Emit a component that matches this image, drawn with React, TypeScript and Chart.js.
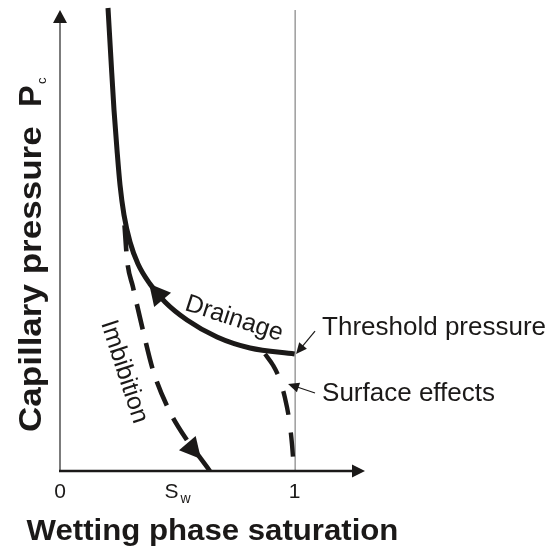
import React, { useEffect, useRef } from 'react';
import { Chart, registerables } from 'chart.js';

Chart.register(...registerables);

const FONT = '"Liberation Sans", Arial, Helvetica, sans-serif';
const INK = '#1b1918';

// Drainage curve (solid)
const drainageX = [0.2046, 0.2174, 0.2302, 0.243, 0.2558, 0.2728, 0.2984, 0.3325, 0.3836, 0.4476, 0.5413, 0.6692, 0.8099, 1.0];
const drainageY = [9.893, 8.782, 7.714, 6.859, 6.111, 5.47, 4.893, 4.423, 3.996, 3.611, 3.226, 2.863, 2.628, 2.5];

// Imbibition curve (dashed)
const imbibitionX = [0.275, 0.286, 0.311, 0.35, 0.396, 0.46, 0.541, 0.601, 0.639];
const imbibitionY = [5.25, 4.51, 3.93, 3.08, 2.16, 1.35, 0.66, 0.26, 0.0];

// Surface effects branch (dashed)
const surfaceX = [0.874, 0.908, 0.934, 0.959, 0.977, 0.989, 0.997];
const surfaceY = [2.5, 2.26, 1.99, 1.56, 1.09, 0.56, 0.02];

// Axis ticks
const xTickValues = [0, 0.475, 1];
const xTickLabels = ['0', 'S', '1'];
const xTickSubs = ['', 'w', ''];

const xMin = 0;
const xMax = 1.3;
const yMin = 0;
const yMax = 10;
const axisTopY = 9.85;
const satLineX = 1;

// arrows: [tail, tip] in data units
const drainageArrow = [[0.435, 3.67], [0.38, 4.0]];
const imbibitionArrow = [[0.546, 0.577], [0.601, 0.256]];
const thresholdLeader = [[1.087, 2.99], [1.006, 2.5]];
const surfaceLeader = [[1.087, 1.667], [0.972, 1.859]];

const annotationTexts = ['Threshold pressure', 'Surface effects'];
const annotationX = [1.117, 1.117];
const annotationY = [2.906, 1.496];

const curveLabelTexts = ['Drainage', 'Imbibition'];
const curveLabelX = [0.742, 0.273];
const curveLabelY = [3.25, 2.12];
const curveLabelAngle = [18, 72];

const xTitle = 'Wetting phase saturation';
const yTitleMain = 'Capillary pressure';
const yTitleSym = 'P';
const yTitleSub = 'c';

function head(ctx: CanvasRenderingContext2D, tx: number, ty: number, px: number, py: number, len: number, hw: number) {
  const dx = px - tx;
  const dy = py - ty;
  const d = Math.hypot(dx, dy) || 1;
  const ux = dx / d;
  const uy = dy / d;
  const bx = px - ux * len;
  const by = py - uy * len;
  ctx.beginPath();
  ctx.moveTo(px, py);
  ctx.lineTo(bx - uy * hw, by + ux * hw);
  ctx.lineTo(bx + uy * hw, by - ux * hw);
  ctx.closePath();
  ctx.fill();
}

const overlay = {
  id: 'overlay',
  beforeDatasetsDraw(chart: any) {
    const { ctx, scales } = chart;
    const x = scales.x;
    const y = scales.y;
    const x0 = x.getPixelForValue(0);
    const y0 = y.getPixelForValue(0);
    const yTop = y.getPixelForValue(axisTopY);
    const xRight = x.getPixelForValue(xMax);
    ctx.save();
    // saturation = 1 line
    const s1 = x.getPixelForValue(satLineX);
    ctx.strokeStyle = '#6a6a6a';
    ctx.lineWidth = 1;
    ctx.beginPath();
    ctx.moveTo(s1 + 0.5, y0);
    ctx.lineTo(s1 + 0.5, yTop);
    ctx.stroke();
    // y axis
    ctx.strokeStyle = '#444';
    ctx.lineWidth = 1.4;
    ctx.beginPath();
    ctx.moveTo(x0, y0);
    ctx.lineTo(x0, yTop + 10);
    ctx.stroke();
    ctx.fillStyle = INK;
    head(ctx, x0, y0, x0, yTop, 13, 7);
    // x axis
    ctx.strokeStyle = INK;
    ctx.lineWidth = 2.6;
    ctx.beginPath();
    ctx.moveTo(x0 - 1, y0);
    ctx.lineTo(xRight - 10, y0);
    ctx.stroke();
    head(ctx, x0, y0, xRight, y0, 13, 6.5);
    ctx.restore();
  },
  afterDatasetsDraw(chart: any) {
    const { ctx, scales, chartArea } = chart;
    const x = scales.x;
    const y = scales.y;
    const P = (p: number[]) => [x.getPixelForValue(p[0]), y.getPixelForValue(p[1])];
    ctx.save();
    ctx.fillStyle = INK;
    ctx.strokeStyle = INK;
    // curve arrows
    [drainageArrow, imbibitionArrow].forEach((a) => {
      const [t, h] = [P(a[0]), P(a[1])];
      head(ctx, t[0], t[1], h[0], h[1], 21, 11);
    });
    // leader arrows
    ctx.lineWidth = 1.2;
    [thresholdLeader, surfaceLeader].forEach((a) => {
      const [t, h] = [P(a[0]), P(a[1])];
      const dx = h[0] - t[0];
      const dy = h[1] - t[1];
      const d = Math.hypot(dx, dy);
      ctx.beginPath();
      ctx.moveTo(t[0], t[1]);
      ctx.lineTo(h[0] - (dx / d) * 8, h[1] - (dy / d) * 8);
      ctx.stroke();
      head(ctx, t[0], t[1], h[0], h[1], 11, 5);
    });
    // annotation texts
    ctx.font = `26px ${FONT}`;
    ctx.textAlign = 'left';
    ctx.textBaseline = 'alphabetic';
    annotationTexts.forEach((t, i) => {
      ctx.fillText(t, x.getPixelForValue(annotationX[i]), y.getPixelForValue(annotationY[i]));
    });
    // curve labels
    ctx.font = `25px ${FONT}`;
    ctx.textAlign = 'center';
    ctx.textBaseline = 'middle';
    curveLabelTexts.forEach((t, i) => {
      ctx.save();
      ctx.translate(x.getPixelForValue(curveLabelX[i]), y.getPixelForValue(curveLabelY[i]));
      ctx.rotate((curveLabelAngle[i] * Math.PI) / 180);
      ctx.fillText(t, 0, 0);
      ctx.restore();
    });
    // x tick labels
    const y0 = y.getPixelForValue(0);
    ctx.textBaseline = 'alphabetic';
    xTickValues.forEach((v, i) => {
      const px = x.getPixelForValue(v);
      ctx.font = `21px ${FONT}`;
      ctx.textAlign = 'center';
      ctx.fillText(xTickLabels[i], px, y0 + 27);
      if (xTickSubs[i]) {
        const w = ctx.measureText(xTickLabels[i]).width;
        ctx.font = `14px ${FONT}`;
        ctx.textAlign = 'left';
        ctx.fillText(xTickSubs[i], px + w / 2 + 2, y0 + 32);
      }
    });
    // x title
    const cx = (chartArea.left + chartArea.right) / 2;
    ctx.save();
    ctx.translate(cx, y0 + 69);
    ctx.scale(1.075, 1);
    ctx.font = `bold 29px ${FONT}`;
    ctx.textAlign = 'center';
    ctx.fillText(xTitle, 0, 0);
    ctx.restore();
    // y title
    const x0 = x.getPixelForValue(0);
    ctx.save();
    ctx.translate(x0 - 19, y0 - 39);
    ctx.rotate(-Math.PI / 2);
    ctx.scale(1.13, 1);
    ctx.font = `bold 31px ${FONT}`;
    ctx.textAlign = 'left';
    ctx.fillText(yTitleMain, 0, 0);
    ctx.restore();
    ctx.save();
    ctx.translate(x0 - 19, y0 - 364);
    ctx.rotate(-Math.PI / 2);
    ctx.scale(1.05, 1);
    ctx.font = `bold 31px ${FONT}`;
    ctx.textAlign = 'left';
    ctx.fillText(yTitleSym, 0, 0);
    ctx.restore();
    ctx.save();
    ctx.translate(x0 - 14, y0 - 387);
    ctx.rotate(-Math.PI / 2);
    ctx.font = `13px ${FONT}`;
    ctx.textAlign = 'left';
    ctx.fillText(yTitleSub, 0, 0);
    ctx.restore();
    ctx.restore();
  },
};

function toPoints(xs: number[], ys: number[]) {
  return xs.map((v, i) => ({ x: v, y: ys[i] }));
}

export default function App() {
  const ref = useRef<HTMLCanvasElement | null>(null);
  useEffect(() => {
    if (!ref.current) return;
    const chart = new Chart(ref.current, {
      type: 'line',
      data: {
        datasets: [
          {
            label: 'Drainage',
            data: toPoints(drainageX, drainageY),
            borderColor: INK,
            borderWidth: 5,
            pointRadius: 0,
            fill: false,
            cubicInterpolationMode: 'monotone',
            borderCapStyle: 'butt',
          },
          {
            label: 'Imbibition',
            data: toPoints(imbibitionX, imbibitionY),
            borderColor: INK,
            borderWidth: 4.6,
            borderDash: [26, 14],
            pointRadius: 0,
            fill: false,
            cubicInterpolationMode: 'monotone',
            borderCapStyle: 'butt',
          },
          {
            label: 'Surface effects',
            data: toPoints(surfaceX, surfaceY),
            borderColor: INK,
            borderWidth: 4.4,
            borderDash: [24, 18],
            pointRadius: 0,
            fill: false,
            cubicInterpolationMode: 'monotone',
            borderCapStyle: 'butt',
          },
        ],
      },
      options: {
        animation: false,
        responsive: false,
        events: [],
        layout: { padding: { left: 60, right: 186, top: 3, bottom: 79 } },
        plugins: { legend: { display: false }, tooltip: { enabled: false } },
        scales: {
          x: { type: 'linear', min: xMin, max: xMax, display: false },
          y: { type: 'linear', min: yMin, max: yMax, display: false },
        },
        elements: { line: { clip: false } as any },
      } as any,
      plugins: [overlay],
    });
    return () => chart.destroy();
  }, []);
  return (
    <div style={{ position: 'fixed', left: 0, top: 0, width: 551, height: 550, background: '#fff' }}>
      <canvas ref={ref} width={551} height={550} style={{ display: 'block', width: 551, height: 550 }} />
    </div>
  );
}
